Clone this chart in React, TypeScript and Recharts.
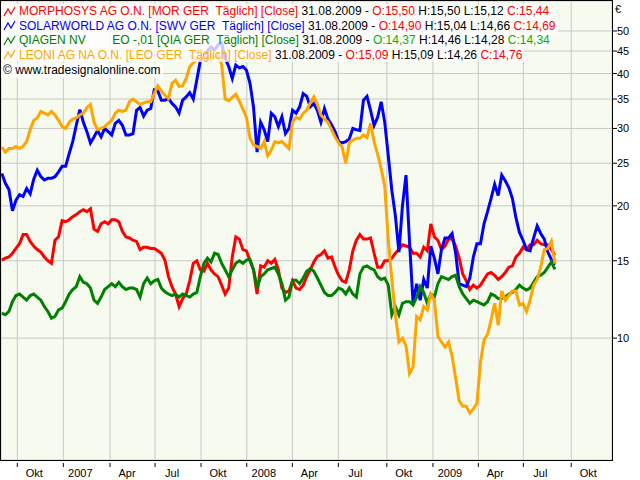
import React from 'react';
import { LineChart, Line, XAxis, YAxis, CartesianGrid } from 'recharts';

// sample index (roughly weekly, evenly spaced on the trading-day axis), Sep 2006 .. 31.08.2009
const weeks = Array.from({ length: 157 }, (_, i) => i);

const morphosys = [
  15.05, 15.2, 15.3, 15.6, 16.0, 16.4, 17.2, 17.2, 16.6, 16.2, 15.9, 15.7, 15.3, 15.0, 14.8, 16.7, 17.0, 18.5, 18.4, 18.6,
  18.9, 19.1, 19.4, 19.6, 19.4, 19.7, 17.7, 17.5, 18.2, 18.4, 18.2, 18.6, 18.6, 18.4, 17.5, 17.0, 16.9, 16.7, 16.6, 15.9,
  16.1, 16.1, 16.0, 16.0, 15.8,
  15.6, 15.05, 13.8, 13.1, 12.6, 11.8, 12.3, 12.6, 13.5, 14.8, 15.0, 14.3, 14.2, 14.8, 14.3, 14.0, 13.8, 13.2, 12.6, 13.0,
  15.3, 17.0, 16.8, 15.9, 15.8, 15.0, 14.3, 12.6, 14.6, 14.5, 15.0, 14.8, 15.1, 14.3, 13.0, 12.7, 12.8, 13.5, 13.0, 12.9,
  13.2, 13.8,
  14.3, 14.9, 15.35, 15.5, 15.8, 15.2, 15.3, 14.5, 13.9, 13.5, 13.4, 14.3, 15.8, 16.7, 17.2, 16.8, 16.8, 16.9, 15.6, 14.5,
  14.5, 15.0, 15.0, 15.2, 15.6, 15.9, 16.3, 16.2, 16.1, 15.6, 15.6, 15.3, 16.1, 15.8, 18.2, 17.0, 16.7, 15.9, 16.2, 16.8,
  16.8, 16.2, 15.2, 14.0, 13.5,
  12.9, 13.2, 13.0, 13.2, 13.6, 14.0, 14.1, 13.9, 13.6, 13.8, 14.1, 14.5, 14.6, 15.3, 15.6, 16.1, 15.9, 16.3, 16.3, 16.7,
  16.4, 16.3, 16.3, 15.9, 15.44,
];

const solarworld = [
  23.7, 22.5, 21.8, 19.5, 20.6, 21.2, 21.0, 21.9, 21.3, 23.0, 24.1, 23.3, 22.9, 23.1, 23.1, 23.3, 23.9, 24.6, 24.6, 26.3,
  28.0, 30.5, 33.1, 31.0, 29.5, 27.8, 28.7, 29.7, 28.7, 30.0, 29.5, 29.0, 30.8, 31.3, 30.5, 29.0, 29.0, 29.2, 33.0, 33.5,
  32.0, 33.0, 33.3, 36.7, 36.5,
  34.8, 34.8, 35.1, 34.2, 33.6, 32.5, 34.8, 35.4, 36.2, 35.0, 38.7, 42.8, 44.0, 45.0, 46.0, 45.3, 46.5, 46.9, 43.3, 41.5,
  39.0, 41.8, 41.2, 41.5, 40.7, 38.0, 33.5, 26.5, 31.0, 29.8, 28.0, 32.5, 31.9, 30.3, 31.9, 29.2, 30.0, 33.0, 32.5, 33.6,
  36.0, 35.5,
  33.6, 34.2, 33.0, 31.0, 33.3, 31.5, 30.6, 29.5, 28.0, 27.8, 28.0, 28.4, 30.0, 29.8, 29.7, 34.8, 35.5, 33.0, 30.5, 31.8,
  34.5, 31.0, 26.0, 21.7, 19.0, 15.7, 20.0, 23.5, 16.5, 12.0, 13.3, 12.2, 13.6, 13.0, 16.2, 15.2, 14.0, 15.9, 16.9, 16.9,
  17.3, 15.6, 13.3, 13.2, 13.1,
  13.7, 15.3, 16.4, 16.4, 18.2, 19.4, 20.8, 22.4, 21.1, 23.5, 22.8, 22.0, 20.8, 18.8, 17.4, 16.7, 15.9, 15.8, 16.9, 18.0,
  17.3, 16.8, 15.7, 15.1, 14.69,
];

const qiagen = [
  11.4, 11.3, 11.5, 12.1, 12.5, 12.6, 12.4, 12.2, 12.5, 12.6, 12.4, 12.2, 11.8, 11.5, 11.1, 11.2, 11.6, 11.7, 12.1, 12.6,
  12.9, 13.1, 13.8, 13.4, 13.3, 13.0, 12.2, 12.0, 12.4, 12.9, 13.1, 13.3, 13.1, 13.4, 13.1, 12.9, 13.0, 13.0, 12.9, 12.4,
  13.3, 13.7, 13.3, 13.5, 13.6,
  13.0, 12.75, 12.6, 12.5, 12.6, 12.4, 12.6, 12.5, 12.4, 12.6, 12.7, 13.8, 14.8, 15.2, 14.9, 15.6, 15.5, 14.8, 14.3, 13.8,
  14.3, 14.8, 15.0, 14.8, 15.05, 15.1, 14.3, 13.0, 13.8, 14.0, 14.3, 14.4, 14.5, 14.0, 13.3, 12.2, 12.4, 13.55, 13.55, 13.3,
  13.7, 14.2,
  14.4, 14.2, 13.7, 13.2, 12.7, 12.5, 12.5, 12.7, 13.0, 12.9, 12.6, 13.0, 12.6, 12.4, 14.0, 14.5, 14.6, 14.4, 14.3, 13.8,
  13.6, 13.7, 13.2, 11.3, 11.8, 11.3, 12.0, 12.1, 12.1, 11.9, 12.4, 13.1, 12.7, 12.0, 12.6, 12.4, 13.3, 13.8, 13.7, 13.6,
  13.8, 13.9, 13.1, 12.6, 12.3,
  12.0, 12.2, 12.1, 12.0, 11.9, 12.1, 12.6, 12.5, 12.3, 12.3, 12.4, 12.6, 12.7, 12.9, 13.2, 13.0, 12.86, 13.0, 13.4, 13.8,
  13.9, 14.1, 14.5, 14.9, 14.34,
];

const leoni = [
  27.2, 26.5, 27.0, 27.0, 27.3, 27.0, 27.3, 28.0, 29.8, 31.3, 31.7, 32.8, 32.5, 32.2, 32.8, 32.2, 31.3, 30.3, 30.0, 31.0,
  31.5, 31.7, 32.2, 32.5, 33.5, 34.0, 31.0, 29.8, 30.0, 30.3, 30.8, 31.3, 32.5, 33.0, 32.8, 33.0, 34.5, 35.0, 34.5, 34.0,
  34.3, 34.5, 34.5, 36.0, 37.5,
  36.5, 35.7, 35.1, 38.0, 38.6, 37.4, 37.5, 39.0, 41.5, 42.3, 42.9, 43.5, 43.8, 43.6, 42.8, 43.4, 44.3, 42.0, 35.0, 34.7,
  35.3, 35.9, 34.6, 33.2, 31.8, 28.5, 27.5, 27.3, 27.0, 28.0, 26.0, 26.8, 28.0, 27.8, 28.0, 27.5, 27.0, 31.0, 31.8, 31.5,
  32.5, 33.0,
  34.3, 35.4, 34.0, 32.2, 31.5, 31.0, 29.8, 28.7, 27.8, 27.2, 25.0, 27.8, 28.2, 28.5, 28.5, 29.0, 28.6, 30.8, 28.0, 26.2,
  24.3, 22.2, 16.7, 13.6, 11.3, 9.8, 10.0, 9.6, 8.3, 8.6, 11.2, 11.0, 11.8, 11.6, 12.6, 12.2, 10.1, 9.8, 9.55, 9.8,
  9.1, 8.1, 7.2, 7.0, 7.0,
  6.75, 6.9, 7.1, 8.8, 9.9, 10.2, 11.0, 12.0, 10.7, 12.8, 12.2, 12.5, 12.8, 12.8, 11.9, 12.0, 11.5, 12.2, 13.2, 13.6,
  14.5, 15.9, 16.0, 16.6, 14.76,
];

// quarter starts on the sample-index axis
const xTickPositions = [4.37, 17.35, 30.52, 43.22, 56.19, 69.09, 81.95, 94.92, 108.6, 121.6, 134.4, 147.1, 160.6];
const xTickLabels = ['Okt', '2007', 'Apr', 'Jul', 'Okt', '2008', 'Apr', 'Jul', 'Okt', '2009', 'Apr', 'Jul', 'Okt'];
const yTicks = [10, 15, 20, 25, 30, 35, 40, 45, 50];

const data = weeks.map((w, i) => ({
  week: w,
  mor: morphosys[i],
  swv: solarworld[i],
  qia: qiagen[i],
  leo: leoni[i],
}));

const FONT = '"Liberation Sans", Arial, sans-serif';

const XTick = (props: any) => {
  const { x, y, payload } = props;
  const idx = xTickPositions.indexOf(payload.value);
  const label = idx >= 0 ? xTickLabels[idx] : '';
  return (
    <g>
      <line x1={x} x2={x} y1={y + 3} y2={y + 7} stroke="#000" strokeWidth={1} />
      <text x={x + 17} y={y + 17} textAnchor="middle" fontSize={11} fontFamily={FONT} fill="#000">
        {label}
      </text>
    </g>
  );
};

const YTick = (props: any) => {
  const { x, y, payload } = props;
  return (
    <g>
      <line x1={x + 1} x2={x + 5} y1={y} y2={y} stroke="#000" strokeWidth={1} />
      <text x={x + 5} y={y + 4} textAnchor="start" fontSize={11} fontFamily={FONT} fill="#000">
        {payload.value}
      </text>
    </g>
  );
};

const Icon = ({ color }: { color: string }) => (
  <svg width={14} height={11} style={{ display: 'block', marginRight: 2 }}>
    <polyline points="1,10 5,3 8,8 12,1" fill="none" stroke={color} strokeWidth={1.2} />
  </svg>
);

const BLACK = '#000000';
const RED = '#FF0000';

type Seg = [string, string];
const legendRows: { color: string; segs: Seg[] }[] = [
  {
    color: '#FF0000',
    segs: [
      ['MORPHOSYS AG O.N. [MOR GER  Täglich] [Close]', '#FF0000'],
      [' 31.08.2009 - ', BLACK],
      ['O:15,50', RED],
      [' H:15,50 L:15,12 ', BLACK],
      ['C:15,44', RED],
    ],
  },
  {
    color: '#0000FF',
    segs: [
      ['SOLARWORLD AG O.N. [SWV GER  Täglich] [Close]', '#0000FF'],
      [' 31.08.2009 - ', BLACK],
      ['O:14,90', RED],
      [' H:15,04 L:14,66 ', BLACK],
      ['C:14,69', RED],
    ],
  },
  {
    color: '#008000',
    segs: [
      ['QIAGEN NV        EO -,01 [QIA GER  Täglich] [Close]', '#008000'],
      [' 31.08.2009 - ', BLACK],
      ['O:14,37', '#00B400'],
      [' H:14,46 L:14,28 ', BLACK],
      ['C:14,34', '#00B400'],
    ],
  },
  {
    color: '#FFA500',
    segs: [
      ['LEONI AG NA O.N. [LEO GER  Täglich] [Close]', '#FFA500'],
      [' 31.08.2009 - ', BLACK],
      ['O:15,09', RED],
      [' H:15,09 L:14,26 ', BLACK],
      ['C:14,76', RED],
    ],
  },
];

export default function App() {
  return (
    <div style={{ position: 'absolute', left: 0, top: 0, width: 640, height: 480, background: '#FFFFFF' }}>
      <LineChart width={640} height={480} data={data} margin={{ top: 1, right: 0, bottom: 0, left: 1 }}>
        <CartesianGrid stroke="#C8C8C8" strokeWidth={1} fill="#F6FAEF" />
        <XAxis
          dataKey="week"
          type="number"
          domain={[-0.23, 172.1]}
          ticks={xTickPositions}
          interval={0}
          allowDataOverflow
          axisLine={false}
          tickLine={false}
          tickSize={0}
          tickMargin={0}
          height={20}
          tick={<XTick />}
        />
        <YAxis
          orientation="right"
          scale="log"
          type="number"
          domain={[5.28, 58.5]}
          ticks={yTicks}
          interval={0}
          allowDataOverflow
          axisLine={false}
          tickLine={false}
          tickSize={0}
          tickMargin={0}
          width={28}
          tick={<YTick />}
        />
        <Line type="linear" dataKey="mor" stroke="#FF0000" strokeWidth={3} dot={false} isAnimationActive={false} />
        <Line type="linear" dataKey="swv" stroke="#0000FF" strokeWidth={3} dot={false} isAnimationActive={false} />
        <Line type="linear" dataKey="qia" stroke="#008000" strokeWidth={3} dot={false} isAnimationActive={false} />
        <Line type="linear" dataKey="leo" stroke="#FFA500" strokeWidth={3} dot={false} isAnimationActive={false} />
      </LineChart>

      {/* plot frame */}
      <div
        style={{
          position: 'absolute',
          left: 0,
          top: 0,
          width: 613,
          height: 461,
          border: '1px solid #000',
          boxSizing: 'border-box',
          pointerEvents: 'none',
        }}
      />

      {/* currency label */}
      <div style={{ position: 'absolute', left: 615, top: 3, fontFamily: FONT, fontSize: 11, color: '#000' }}>€</div>

      {/* legend */}
      <div style={{ position: 'absolute', left: 1, top: 4, fontFamily: FONT, fontSize: 12 }}>
        {legendRows.map((row, i) => (
          <div key={i} style={{ height: 14.5, display: 'flex' }}>
            <span
              style={{
                display: 'inline-flex',
                alignItems: 'center',
                background: 'rgba(255,255,255,0.78)',
                whiteSpace: 'pre',
                paddingLeft: 2,
                paddingRight: 2,
                lineHeight: '14.5px',
              }}
            >
              <Icon color={row.color} />
              {row.segs.map((s, j) => (
                <span key={j} style={{ color: s[1] }}>
                  {s[0]}
                </span>
              ))}
            </span>
          </div>
        ))}
        <div style={{ height: 14.5, display: 'flex', marginTop: 1 }}>
          <span
            style={{
              background: 'rgba(255,255,255,0.78)',
              whiteSpace: 'pre',
              paddingLeft: 2,
              paddingRight: 2,
              lineHeight: '14.5px',
              color: '#000',
            }}
          >
            © www.tradesignalonline.com
          </span>
        </div>
      </div>
    </div>
  );
}
